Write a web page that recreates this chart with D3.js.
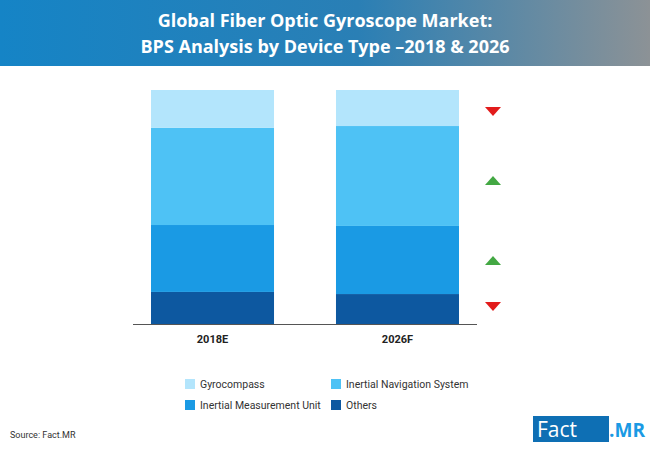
<!DOCTYPE html><html><head><meta charset="utf-8">
<script src="https://cdn.jsdelivr.net/npm/d3@7"></script>
<style>body{margin:0;background:#fff}svg{font-family:"Open Sans",sans-serif}</style></head><body>
<svg id="c" width="650" height="450"></svg>
<script>
const categories=["2018E","2026F"];
const seriesNames=["Others","Inertial Measurement Unit","Inertial Navigation System","Gyrocompass"];
const others=[13.7,12.8];
const imu=[28.6,29.1];
const ins=[41.5,42.7];
const gyro=[16.2,15.4];
const trends=["down","up","up","down"]; // gyro, ins, imu, others (top to bottom)
const colors={"Others":"#0d58a0","Inertial Measurement Unit":"#1a9ae4","Inertial Navigation System":"#4ec2f5","Gyrocompass":"#b3e5fc"};
const svg=d3.select("#c");
const defs=svg.append("defs");
const g=defs.append("linearGradient").attr("id","hg");
g.append("stop").attr("offset","0").attr("stop-color","#1584c6");
g.append("stop").attr("offset","0.55").attr("stop-color","#2a7fb5");
g.append("stop").attr("offset","1").attr("stop-color","#8c9296");
svg.append("rect").attr("width",650).attr("height",66).attr("fill","url(#hg)");
svg.append("text").attr("x",325).attr("y",27).attr("text-anchor","middle").attr("fill","#fff").attr("font-size",18).attr("font-weight","bold").text("Global Fiber Optic Gyroscope Market:");
svg.append("text").attr("x",325).attr("y",53).attr("text-anchor","middle").attr("fill","#fff").attr("font-size",18).attr("font-weight","bold").text("BPS Analysis by Device Type –2018 & 2026");
const x=d3.scaleBand().domain(categories).range([120,490]).paddingInner(0.335).paddingOuter(0.1676);
const y=d3.scaleLinear().domain([0,100]).range([324,90]);
const data=categories.map((c,i)=>({cat:c,"Others":others[i],"Inertial Measurement Unit":imu[i],"Inertial Navigation System":ins[i],"Gyrocompass":gyro[i]}));
const stack=d3.stack().keys(seriesNames)(data);
svg.append("g").selectAll("g").data(stack).join("g").attr("fill",d=>colors[d.key])
 .selectAll("rect").data(d=>d).join("rect").attr("x",d=>x(d.data.cat)).attr("width",x.bandwidth())
 .attr("y",d=>y(d[1])).attr("height",d=>y(d[0])-y(d[1]));
svg.append("line").attr("x1",133).attr("x2",477).attr("y1",324.5).attr("y2",324.5).attr("stroke","#555");
svg.append("g").selectAll("text").data(categories).join("text").attr("x",d=>x(d)+x.bandwidth()/2).attr("y",343)
 .attr("text-anchor","middle").attr("font-size",11).attr("font-weight","bold").attr("fill","#222").style("font-family","Roboto").text(d=>d);
const arrowY=[111,180,260,306];
arrowY.forEach((yy,i)=>{
 const up=trends[i]==="up";
 svg.append("path").attr("d",up?`M${485},${yy+5}L${501},${yy+5}L${493},${yy-4}Z`:`M${485},${yy-4}L${501},${yy-4}L${493},${yy+5}Z`)
 .attr("fill",up?"#43a843":"#e21b1b");
});
const legend=[["Gyrocompass",185,384],["Inertial Navigation System",331,384],["Inertial Measurement Unit",185,405],["Others",331,405]];
legend.forEach(([n,lx,ly])=>{
 svg.append("rect").attr("x",lx).attr("y",ly-5).attr("width",10).attr("height",10).attr("fill",colors[n]);
 svg.append("text").attr("x",lx+15).attr("y",ly+4).attr("font-size",10.5).style("font-family","Roboto").attr("fill","#333").text(n);
});
svg.append("text").attr("x",10).attr("y",438).attr("font-size",9).style("font-family","Roboto").attr("fill","#333").text("Source: Fact.MR");
svg.append("rect").attr("x",533).attr("y",416).attr("width",76).attr("height",26).attr("fill","#0e6fb4");
svg.append("text").attr("x",537).attr("y",437).attr("font-size",21).attr("fill","#fff").text("Fact");
svg.append("text").attr("x",609).attr("y",437).attr("font-size",20).attr("font-weight","bold").attr("fill","#1a9ae4").attr("textLength",36).attr("lengthAdjust","spacingAndGlyphs").text(".MR");
</script></body></html>
